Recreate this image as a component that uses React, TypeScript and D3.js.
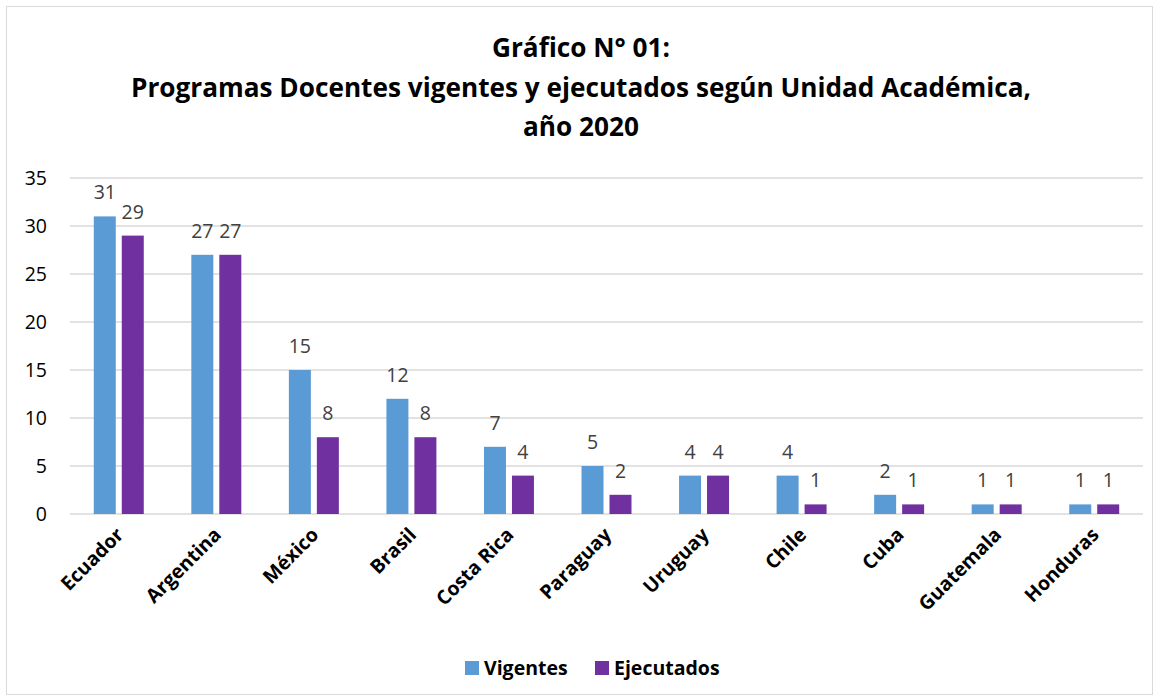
import { useEffect, useRef } from "react";
import * as d3 from "d3";

const categories = ["Ecuador", "Argentina", "México", "Brasil", "Costa Rica", "Paraguay", "Uruguay", "Chile", "Cuba", "Guatemala", "Honduras"];
const vigentes = [31, 27, 15, 12, 7, 5, 4, 4, 2, 1, 1];
const ejecutados = [29, 27, 8, 8, 4, 2, 4, 1, 1, 1, 1];
const seriesNames = ["Vigentes", "Ejecutados"];
const seriesColors = ["#5B9BD5", "#7030A0"];
const yTicks = [0, 5, 10, 15, 20, 25, 30, 35];
const titleLines = ["Gráfico N° 01:", "Programas Docentes vigentes y ejecutados según Unidad Académica,", "año 2020"];

const W = 1159;
const H = 700;
const FONT = "'Open Sans', 'Liberation Sans', sans-serif";

/* Grouped bar chart */
function BarChart() {
    const svgRef = useRef<SVGSVGElement>(null);
    const margin = { top: 178, bottom: 186, left: 70, right: 16 };

    useEffect(() => {
        const svg = d3.select(svgRef.current);
        svg.selectAll("*").remove();

        // outer frame
        svg.append("rect")
            .attr("x", 6.5).attr("y", 6.5)
            .attr("width", W - 13).attr("height", H - 12)
            .attr("fill", "#fff").attr("stroke", "#d9d9d9");

        // title
        const title = svg.append("text")
            .attr("text-anchor", "middle")
            .attr("font-family", FONT)
            .attr("font-weight", "bold")
            .attr("font-size", 26.2)
            .attr("fill", "#000");
        titleLines.forEach((t, i) => {
            title.append("tspan").attr("x", 581).attr("y", 57 + i * 39.5).text(t);
        });

        const x = d3.scaleBand()
            .domain(categories)
            .range([margin.left, W - margin.right]);
        const x1 = d3.scaleBand()
            .domain(seriesNames)
            .range([0, x.bandwidth()])
            .paddingInner(0.214)
            .paddingOuter(0.85);
        const y = d3.scaleLinear()
            .domain([0, 35])
            .range([H - margin.bottom, margin.top]);

        // gridlines
        svg.append("g")
            .selectAll("line")
            .data(yTicks)
            .enter()
            .append("line")
            .attr("x1", margin.left)
            .attr("x2", W - margin.right)
            .attr("y1", d => y(d))
            .attr("y2", d => y(d))
            .attr("stroke", "#d9d9d9")
            .attr("stroke-width", 1.3);

        // y axis labels
        svg.append("g")
            .selectAll("text")
            .data(yTicks)
            .enter()
            .append("text")
            .attr("x", 47)
            .attr("y", d => y(d))
            .attr("dy", "0.35em")
            .attr("text-anchor", "end")
            .attr("font-family", FONT)
            .attr("font-size", 19.5)
            .attr("fill", "#000")
            .text(d => d);

        const series = [vigentes, ejecutados];
        series.forEach((vals, si) => {
            const g = svg.append("g");
            g.selectAll("rect")
                .data(vals)
                .enter()
                .append("rect")
                .attr("x", (d, i) => (x(categories[i]) as number) + (x1(seriesNames[si]) as number))
                .attr("y", d => y(d))
                .attr("width", x1.bandwidth())
                .attr("height", d => y(0) - y(d))
                .attr("fill", seriesColors[si]);
            g.selectAll("text")
                .data(vals)
                .enter()
                .append("text")
                .attr("x", (d, i) => (x(categories[i]) as number) + (x1(seriesNames[si]) as number) + x1.bandwidth() / 2)
                .attr("y", d => y(d) - 17)
                .attr("text-anchor", "middle")
                .attr("font-family", FONT)
                .attr("font-size", 19.5)
                .attr("fill", "#404040")
                .text(d => d);
        });

        // x axis labels
        svg.append("g")
            .selectAll("text")
            .data(categories)
            .enter()
            .append("text")
            .attr("transform", d => `translate(${(x(d) as number) + x.bandwidth() / 2 + 6}, ${y(0) + 22}) rotate(-45)`)
            .attr("text-anchor", "end")
            .attr("font-family", FONT)
            .attr("font-weight", "bold")
            .attr("font-size", 19.5)
            .attr("fill", "#000")
            .text(d => d);

        // legend
        const legendX = [465, 595];
        seriesNames.forEach((s, i) => {
            svg.append("rect")
                .attr("x", legendX[i]).attr("y", 661)
                .attr("width", 14).attr("height", 14)
                .attr("fill", seriesColors[i]);
            svg.append("text")
                .attr("x", legendX[i] + 19).attr("y", 675)
                .attr("font-family", FONT)
                .attr("font-weight", "bold")
                .attr("font-size", 19.5)
                .attr("fill", "#000")
                .text(s);
        });
    }, []);

    return <svg ref={svgRef} width={W} height={H} style={{ position: "absolute", left: 0, top: 0 }}></svg>;
}

export default function App() {
    return <BarChart />;
}
